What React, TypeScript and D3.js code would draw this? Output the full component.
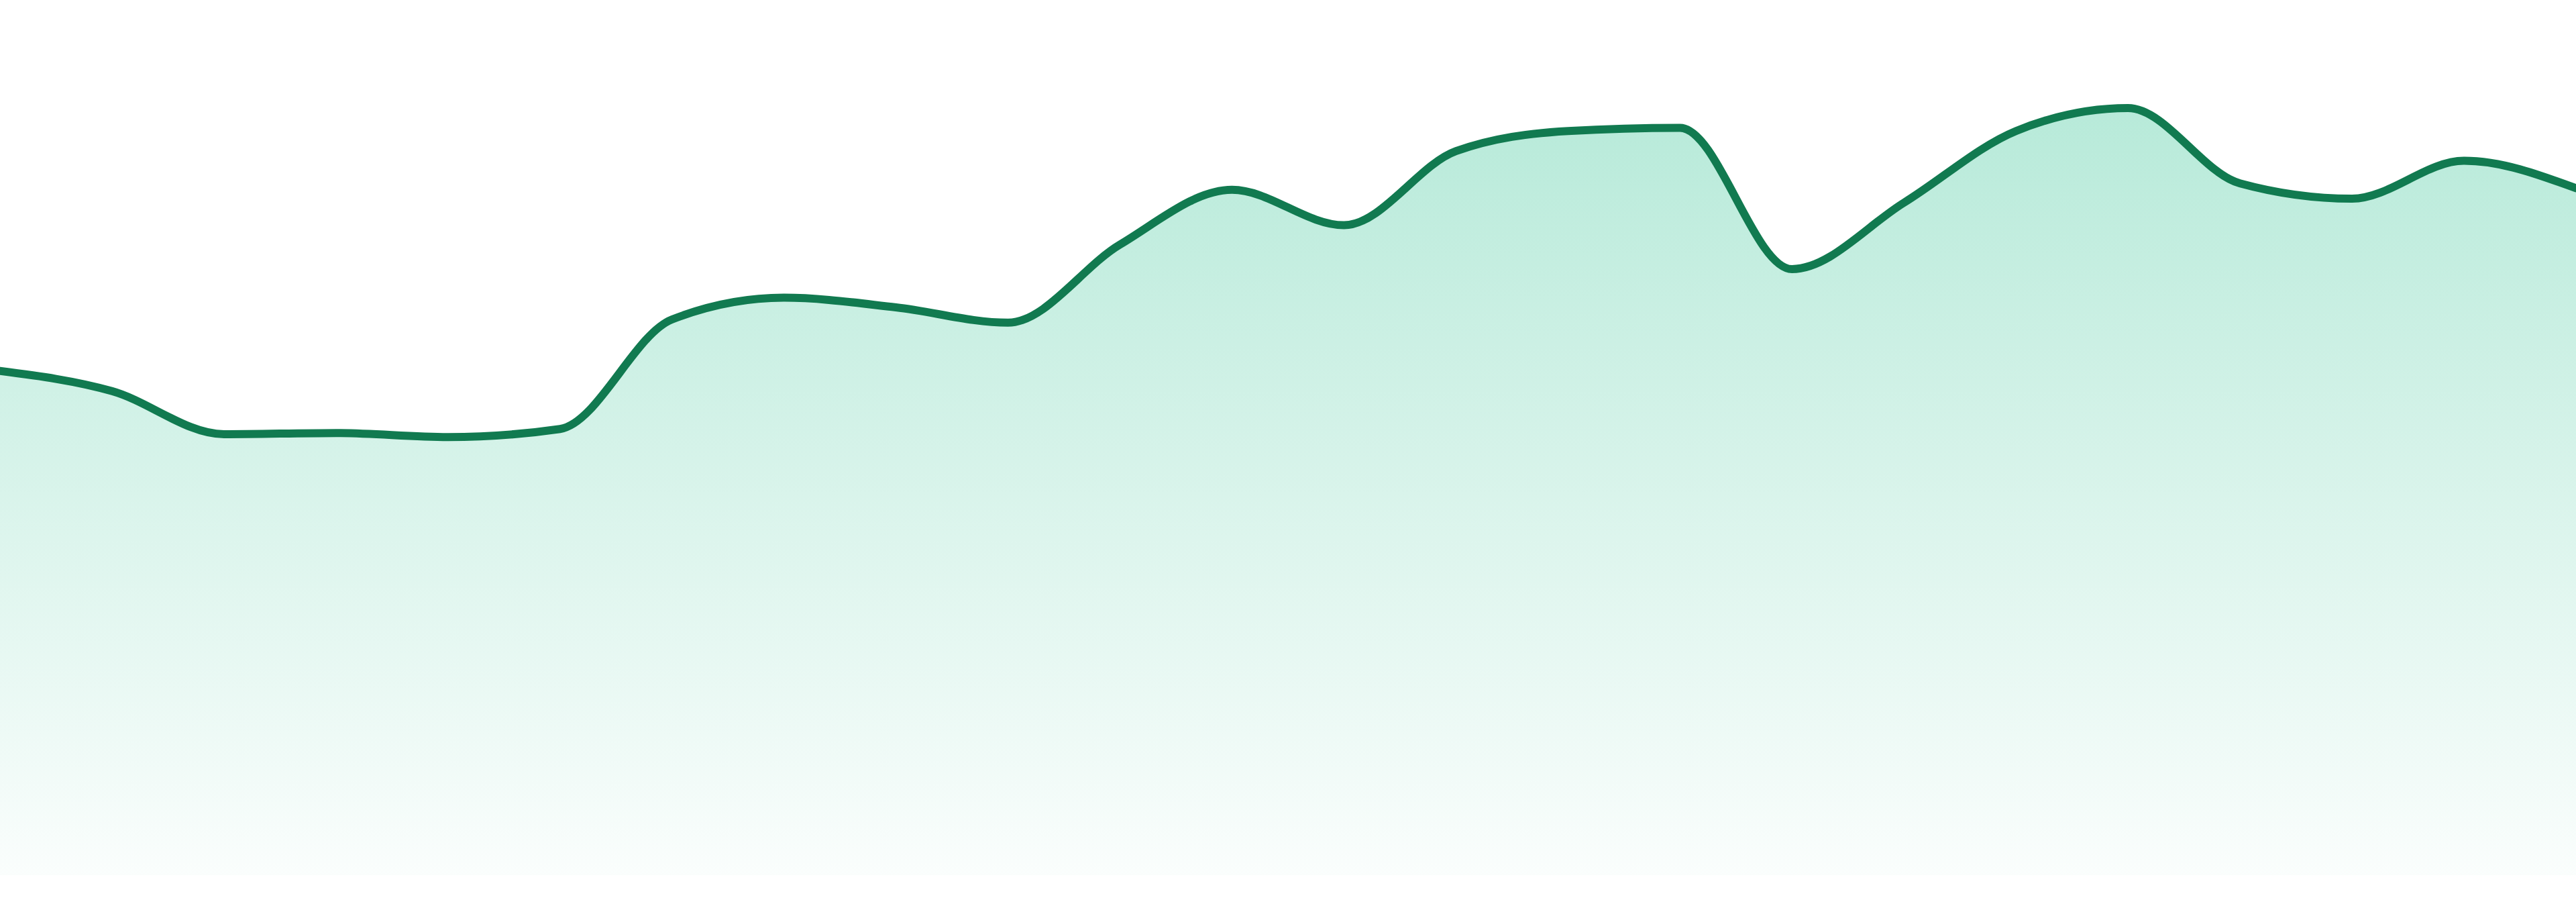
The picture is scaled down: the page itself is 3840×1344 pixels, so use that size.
import React, { useEffect, useRef } from "react";
import * as d3 from "d3";

const categories: string[] = [
  "D01", "D02", "D03", "D04", "D05", "D06", "D07", "D08",
  "D09", "D10", "D11", "D12", "D13", "D14", "D15", "D16",
  "D17", "D18", "D19", "D20", "D21", "D22", "D23", "D24",
];

const seriesValues: number[] = [
  62.6, 60.1, 54.75, 54.9, 54.4, 55.4, 69.0, 71.7,
  70.5, 68.6, 78.3, 85.1, 80.7, 89.9, 92.4, 92.8,
  75.25, 83.5, 92.4, 95.25, 85.9, 84.0, 88.7, 85.3,
];

const yDomain: number[] = [0, 100];

const W = 3840;
const H = 1344;
const BASE_Y = 1304;
const TOP_Y = 104;

export default function App() {
  const ref = useRef<SVGSVGElement | null>(null);

  useEffect(() => {
    const svg = d3.select(ref.current);
    svg.selectAll("*").remove();

    const x = d3.scalePoint<string>().domain(categories).range([0, W]);
    const y = d3.scaleLinear().domain(yDomain).range([BASE_Y, TOP_Y]);

    const data = categories.map((c, i) => ({ c, v: seriesValues[i] }));

    const defs = svg.append("defs");
    const grad = defs
      .append("linearGradient")
      .attr("id", "areaGrad")
      .attr("gradientUnits", "userSpaceOnUse")
      .attr("x1", 0)
      .attr("x2", 0)
      .attr("y1", y(d3.max(seriesValues) as number))
      .attr("y2", BASE_Y);
    grad.append("stop").attr("offset", "0%").attr("stop-color", "#10b981").attr("stop-opacity", 0.3);
    grad.append("stop").attr("offset", "100%").attr("stop-color", "#10b981").attr("stop-opacity", 0.02);

    const area = d3
      .area<{ c: string; v: number }>()
      .x((d) => x(d.c) as number)
      .y0(BASE_Y)
      .y1((d) => y(d.v))
      .curve(d3.curveMonotoneX);

    const line = d3
      .line<{ c: string; v: number }>()
      .x((d) => x(d.c) as number)
      .y((d) => y(d.v))
      .curve(d3.curveMonotoneX);

    svg.append("path").datum(data).attr("d", area).attr("fill", "url(#areaGrad)");

    svg
      .append("path")
      .datum(data)
      .attr("d", line)
      .attr("fill", "none")
      .attr("stroke", "#117a50")
      .attr("stroke-width", 12)
      .attr("stroke-linejoin", "round")
      .attr("stroke-linecap", "round");
  }, []);

  return (
    <svg
      ref={ref}
      width={W}
      height={H}
      style={{ position: "absolute", left: 0, top: 0, display: "block", background: "#ffffff" }}
    />
  );
}
